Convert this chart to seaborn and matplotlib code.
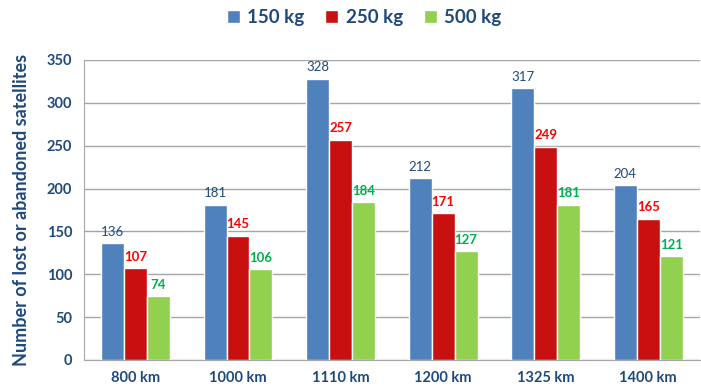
import pandas as pd
import matplotlib.pyplot as plt
import seaborn as sns

# data
altitudes = ["800 km", "1000 km", "1110 km", "1200 km", "1325 km", "1400 km"]
sat_150 = [136, 181, 328, 212, 317, 204]
sat_250 = [107, 145, 257, 171, 249, 165]
sat_500 = [74, 106, 184, 127, 181, 121]
masses = ["150 kg", "250 kg", "500 kg"]

bar_colors = ["#4F81BD", "#C81010", "#92D050"]
label_colors = ["#1F497D", "#FF0000", "#00B050"]
navy = "#1F497D"

df = pd.DataFrame({
    "altitude": altitudes * 3,
    "mass": [m for m in masses for _ in altitudes],
    "count": sat_150 + sat_250 + sat_500,
})

sns.set_style("white")
plt.rcParams["font.family"] = ["Lato", "DejaVu Sans"]

fig = plt.figure(figsize=(7.01, 3.87), dpi=100)
ax = fig.add_axes([0.12, 0.07, 0.878, 0.775])

sns.barplot(data=df, x="altitude", y="count", hue="mass", palette=bar_colors,
            width=0.67, saturation=1, ax=ax, zorder=3)

for cont, col, w in zip(ax.containers, label_colors, ["normal", "bold", "bold"]):
    ax.bar_label(cont, padding=4, color=col, fontsize=9.5, fontweight=w)

ax.set_ylim(0, 350)
ax.set_yticks(range(0, 351, 50))
ax.grid(axis="y", color="#A6A6A6", linewidth=1, zorder=0)
ax.set_axisbelow(True)
for s in ["top", "right"]:
    ax.spines[s].set_visible(False)
for s in ["left", "bottom"]:
    ax.spines[s].set_color("#A6A6A6")

ax.set_xticks([i + 0.5 for i in range(-1, 6)], minor=True)
ax.tick_params(axis="x", which="major", length=0, pad=8)
ax.tick_params(axis="x", which="minor", length=5, color="#A6A6A6")
ax.tick_params(axis="y", length=5, color="#A6A6A6", direction="out")
ax.set_xlim(-0.5, 5.5)

for lab in ax.get_xticklabels() + ax.get_yticklabels():
    lab.set_color(navy)
    lab.set_fontweight("bold")
    lab.set_fontsize(10.5)

ax.set_xlabel("")
ax.set_ylabel("Number of lost or abandoned satellites", color=navy,
              fontsize=13, fontweight="bold", labelpad=12)

ax.legend(loc="center", bbox_to_anchor=(0.455, 1.14), ncol=3, frameon=False,
          prop={"size": 13.5, "weight": "bold"}, handlelength=0.7, handleheight=0.7,
          columnspacing=1.1, handletextpad=0.4, labelcolor=navy)

plt.savefig("out.png")
